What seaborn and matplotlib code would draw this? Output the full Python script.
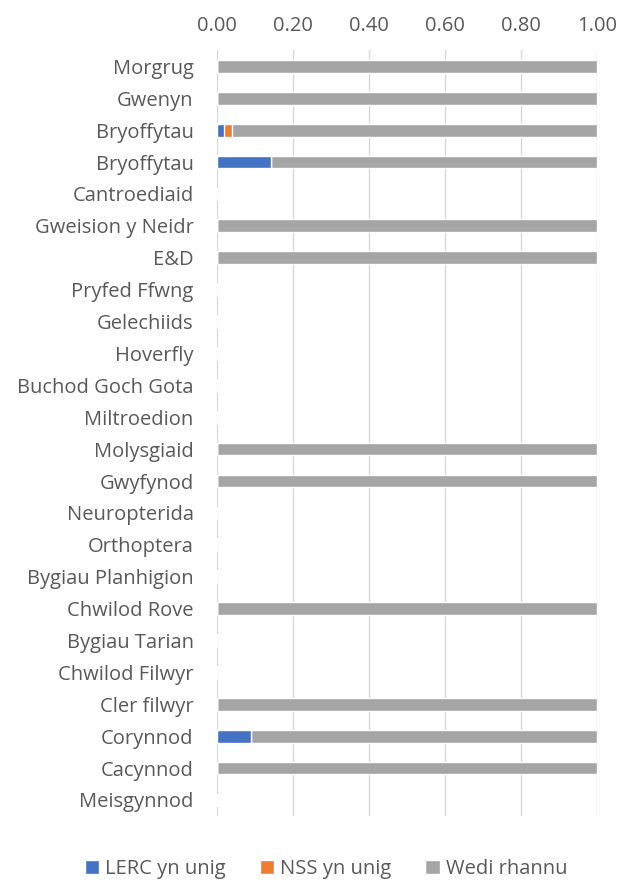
import pandas as pd
import numpy as np
import seaborn as sns
import matplotlib.pyplot as plt

categories = ["Morgrug", "Gwenyn", "Bryoffytau", "Bryoffytau", "Cantroediaid",
              "Gweision y Neidr", "E&D", "Pryfed Ffwng", "Gelechiids", "Hoverfly",
              "Buchod Goch Gota", "Miltroedion", "Molysgiaid", "Gwyfynod",
              "Neuropterida", "Orthoptera", "Bygiau Planhigion", "Chwilod Rove",
              "Bygiau Tarian", "Chwilod Filwyr", "Cler filwyr", "Corynnod",
              "Cacynnod", "Meisgynnod"]
lerc_only = [0, 0, 0.018, 0.142, 0, 0, 0, 0, 0, 0, 0, 0, 0, 0, 0, 0, 0, 0, 0, 0, 0, 0.089, 0, 0]
nss_only = [0, 0, 0.02, 0, 0, 0, 0, 0, 0, 0, 0, 0, 0, 0, 0, 0, 0, 0, 0, 0, 0, 0, 0, 0]
shared = [1, 1, 0.962, 0.858, 0, 1, 1, 0, 0, 0, 0, 0, 1, 1, 0, 0, 0, 1, 0, 0, 1, 0.911, 1, 0]
series_names = ["LERC yn unig", "NSS yn unig", "Wedi rhannu"]
colors = ["#4472C4", "#ED7D31", "#A5A5A5"]

df = pd.DataFrame({"row": [str(i) for i in range(len(categories))],
                   "cat": categories, "lerc": lerc_only, "nss": nss_only, "shared": shared})
df["c1"] = df["lerc"]
df["c2"] = df["lerc"] + df["nss"]
df["c3"] = df["c2"] + df["shared"]

sns.set_style("white")
plt.rcParams["font.family"] = ["Open Sans", "DejaVu Sans"]

fig = plt.figure(figsize=(6.33, 8.84), dpi=100)
ax = fig.add_axes([0.343, 0.077, 0.6, 0.866])

order = list(df["row"])
for col, c, name in zip(["c3", "c2", "c1"], colors[::-1], series_names[::-1]):
    sns.barplot(data=df, x=col, y="row", order=order, orient="h", color=c,
                width=0.4, ax=ax, label=name, saturation=1)

ax.set_xlim(0, 1)
ticks = np.arange(0, 1.01, 0.2)
ax.set_xticks(ticks)
ax.set_xticklabels([f"{v:.2f}" for v in ticks])
ax.xaxis.tick_top()
ax.set_yticks(range(len(categories)))
ax.set_yticklabels(categories)
ax.set_xlabel("")
ax.set_ylabel("")
ax.tick_params(axis="both", length=0, colors="#595959", labelsize=14.5)
ax.tick_params(axis="y", pad=17)
ax.tick_params(axis="x", pad=10)
ax.grid(axis="x", color="#D9D9D9", linewidth=1)
ax.set_axisbelow(True)
for s in ax.spines.values():
    s.set_visible(False)

handles, labels = ax.get_legend_handles_labels()
if ax.get_legend() is not None:
    ax.get_legend().remove()
hmap = dict(zip(labels, handles))
fig.legend([hmap[n] for n in series_names], series_names, loc="center",
           bbox_to_anchor=(0.515, 0.017), ncol=3, frameon=False, fontsize=14.5,
           labelcolor="#595959", handlelength=0.7, handleheight=0.7,
           handletextpad=0.3, columnspacing=1.7)

fig.savefig("out.png", dpi=100)
